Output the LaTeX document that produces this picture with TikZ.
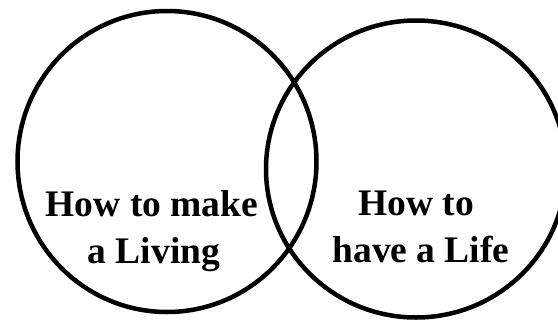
\documentclass[tikz,border=0pt]{standalone}
\usepackage{fontspec}
\setmainfont{Liberation Serif}
\begin{document}
\begin{tikzpicture}[x=1pt,y=-1pt,
  ring/.style={draw=black,line width=4.5pt},
  lbl/.style={font=\bfseries\fontsize{37.5}{45}\selectfont,anchor=base,inner sep=0pt,text=black}]
\useasboundingbox (0,0) rectangle (558,322);
\begin{scope}
\clip (0,0) rectangle (558,322);
\draw[ring] (167,161.5) circle[x radius=149.5, y radius=150.5];
\draw[ring] (416,169) circle[x radius=150, y radius=148.5];
\end{scope}
\node[lbl] (l1) at (152,216) {How to make};
\node[lbl] (l2) at (154,263) {a Living};
\node[lbl] (r1) at (416,215) {How to};
\node[lbl] (r2) at (421,262) {have a Life};
\end{tikzpicture}
\end{document}
